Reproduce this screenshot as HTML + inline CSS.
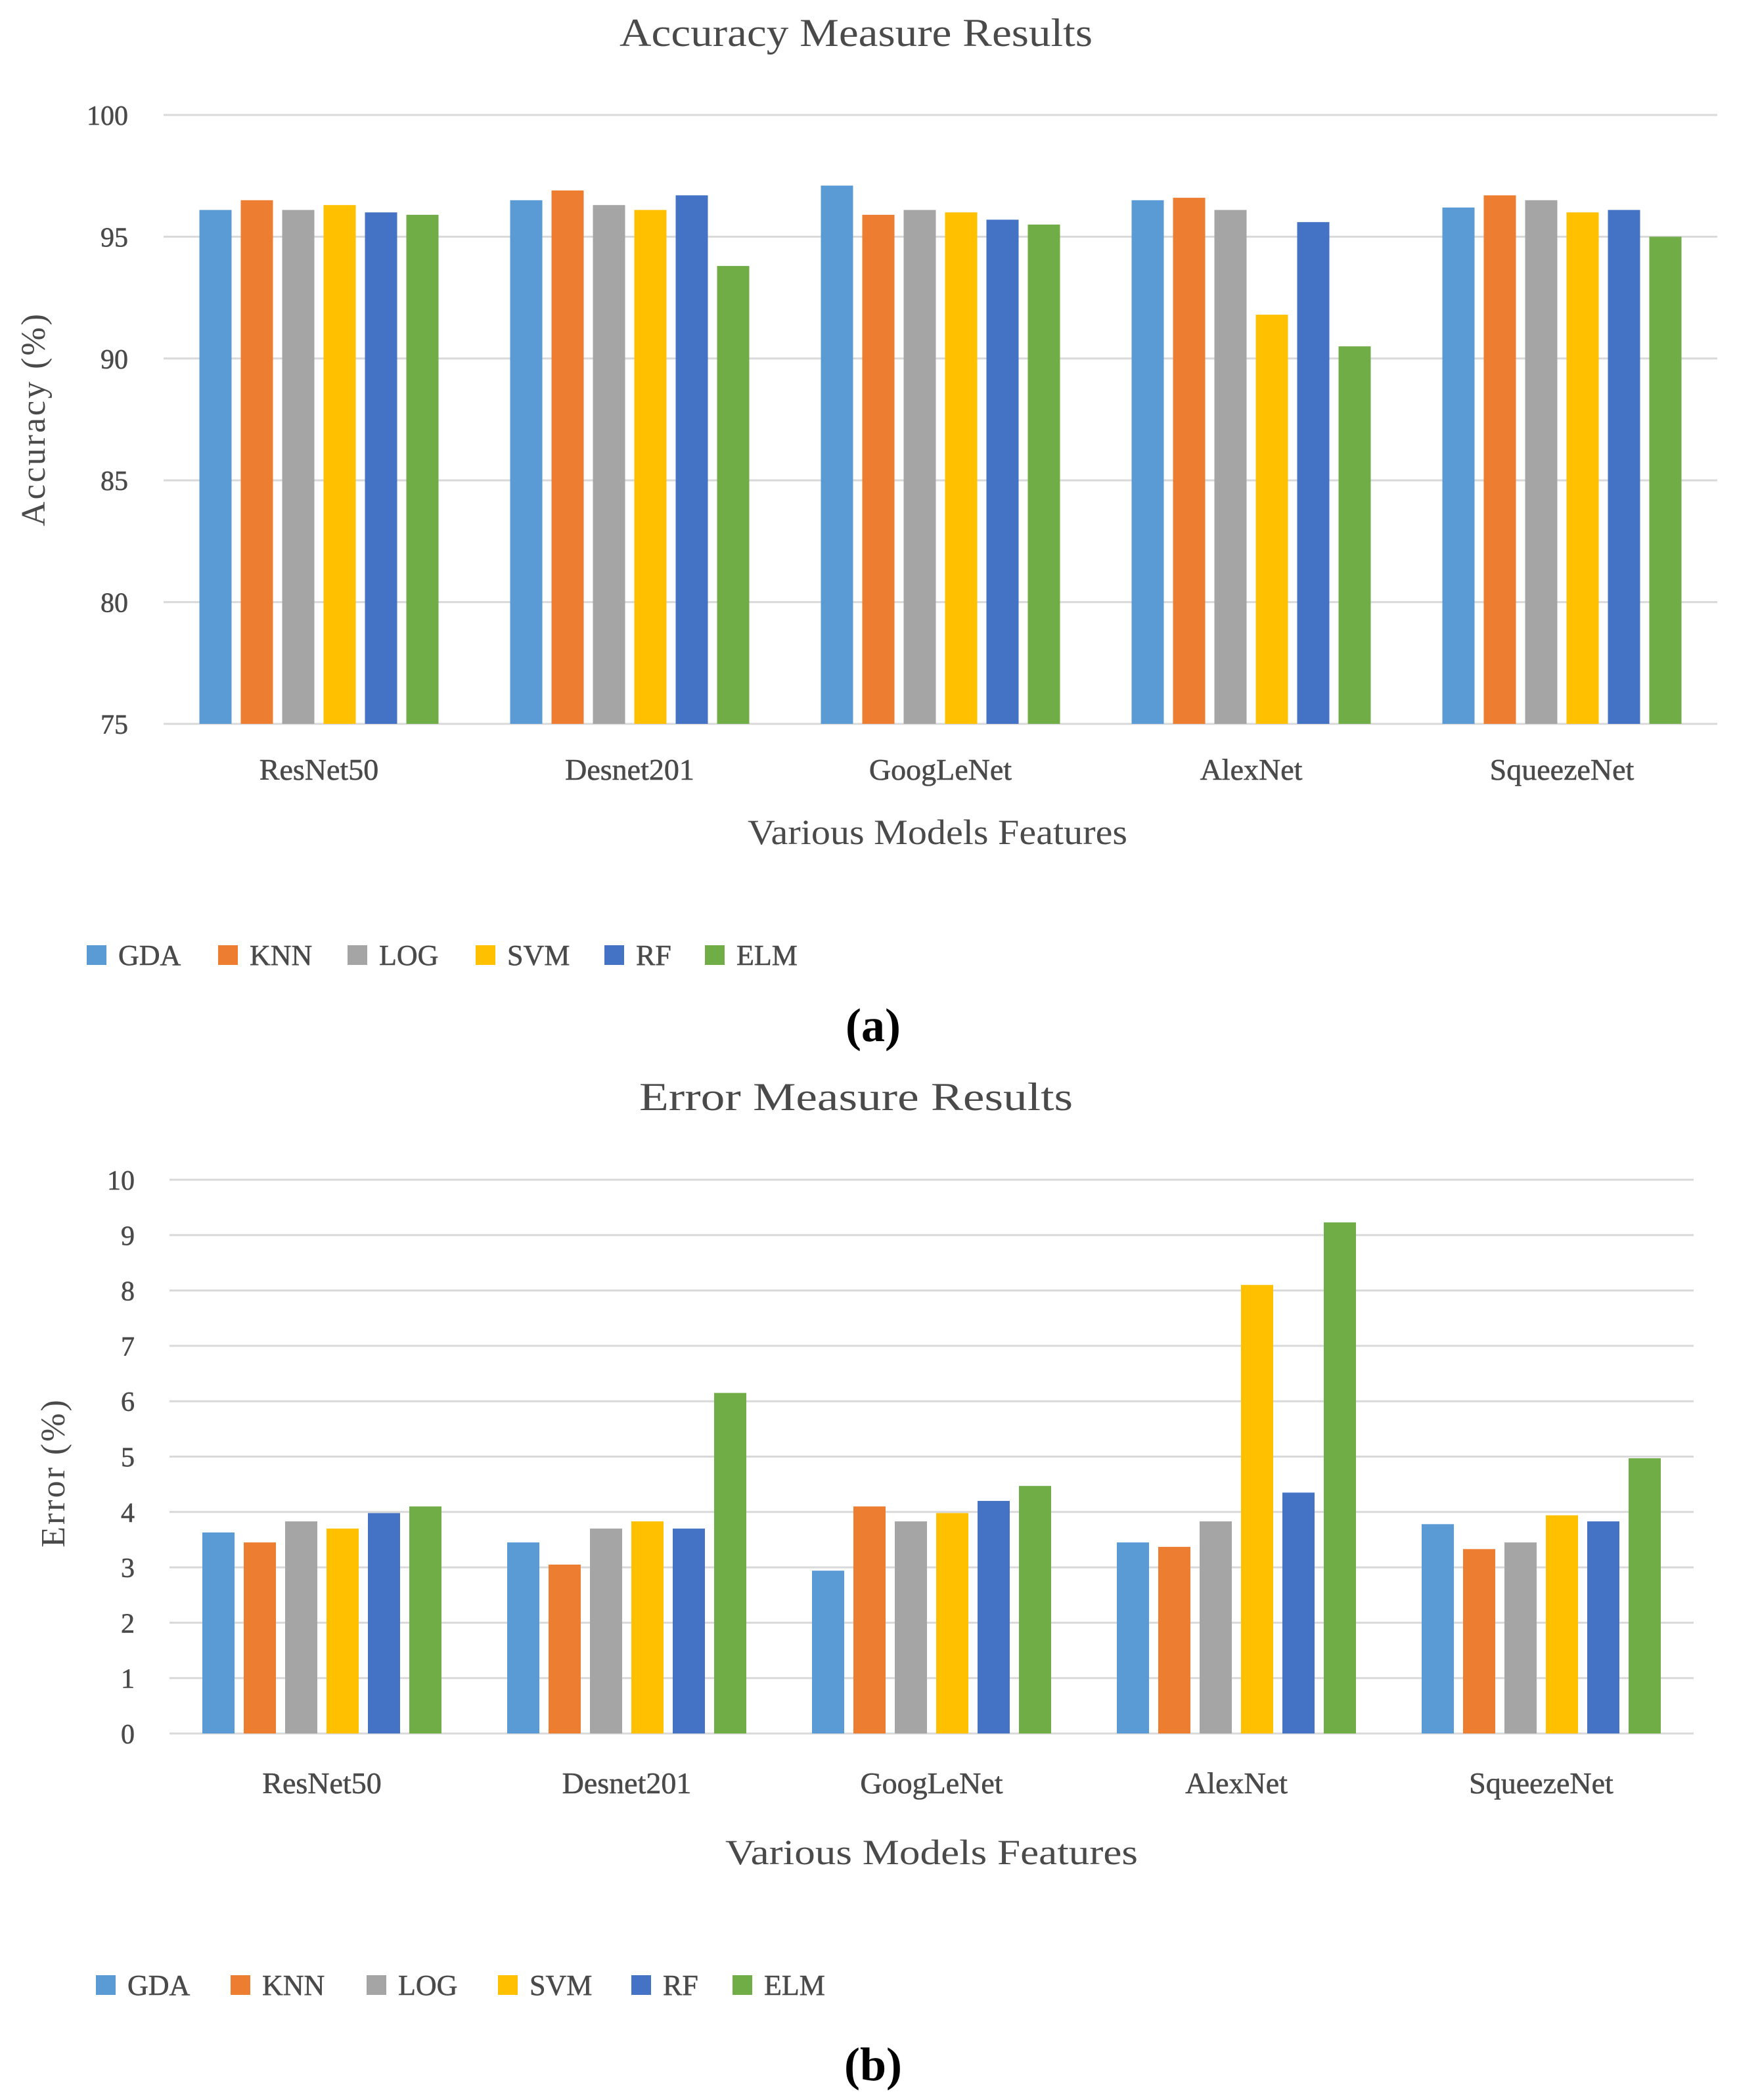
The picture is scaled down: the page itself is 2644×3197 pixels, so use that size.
<!DOCTYPE html>
<html><head><meta charset="utf-8"><style>
html,body{margin:0;padding:0;background:#fff;}
svg{display:block;}
text{font-family:"Liberation Serif",serif;fill:#4a4a4a;}
</style></head><body>
<svg id="fig" width="2644" height="3197" viewBox="0 0 2644 3197" xmlns="http://www.w3.org/2000/svg"></svg>
<script>
const categories = ["ResNet50","Desnet201","GoogLeNet","AlexNet","SqueezeNet"];
const seriesNames = ["GDA","KNN","LOG","SVM","RF","ELM"];
const accGDA = [96.1,96.5,97.1,96.5,96.2];
const accKNN = [96.5,96.9,95.9,96.6,96.7];
const accLOG = [96.1,96.3,96.1,96.1,96.5];
const accSVM = [96.3,96.1,96.0,91.8,96.0];
const accRF  = [96.0,96.7,95.7,95.6,96.1];
const accELM = [95.9,93.8,95.5,90.5,95.0];
const accTicks = [75,80,85,90,95,100];
const errGDA = [3.63,3.45,2.94,3.45,3.78];
const errKNN = [3.45,3.05,4.10,3.37,3.33];
const errLOG = [3.83,3.70,3.83,3.83,3.45];
const errSVM = [3.70,3.83,3.98,8.10,3.94];
const errRF  = [3.98,3.70,4.20,4.35,3.83];
const errELM = [4.10,6.15,4.47,9.23,4.97];
const errTicks = [0,1,2,3,4,5,6,7,8,9,10];
const colors = ["#5B9BD5","#ED7D31","#A5A5A5","#FFC000","#4472C4","#70AD47"];
const NS="http://www.w3.org/2000/svg";
const svg=document.getElementById('fig');
function mk(tag,attrs,parent,txt){const e=document.createElementNS(NS,tag);for(const k in attrs)e.setAttribute(k,attrs[k]);if(txt!==undefined)e.textContent=txt;(parent||svg).appendChild(e);return e;}

function chart(o){
  const g=mk('g',{});
  
  
  const y=v=>o.yBot-(v-o.min)/(o.max-o.min)*(o.yBot-o.yTop);
  const step=(o.xRight-o.xLeft)/categories.length;
  const cx=i=>o.xLeft+step*(i+0.5);
  const t=mk('text',{x:o.titleX,y:o.titleY,'font-size':60,'text-anchor':'middle',textLength:o.titleW,lengthAdjust:'spacingAndGlyphs'},g,o.title);
  
  
  o.ticks.forEach(v=>{
    const ln=mk('line',{x1:o.xLeft,x2:o.xRight,y1:y(v),y2:y(v),stroke:'#d9d9d9','stroke-width':3},g);
    
    
    const tl=mk('text',{x:o.tickX,y:y(v)+15,'font-size':42,'text-anchor':'end',stroke:'#4a4a4a','stroke-width':0.6},g,String(v));
    
    
  });
  const stride=63,bw=49;
  o.series.forEach((arr,s)=>{
    arr.forEach((v,i)=>{
      const x=cx(i)+(s-2.5)*stride-bw/2;
      const r=mk('rect',{x:x,y:y(v),width:bw,height:o.yBot-y(v),fill:colors[s]},g);
      
      
    });
  });
  categories.forEach((c,i)=>{
    const ct=mk('text',{x:cx(i),y:o.catY,'font-size':46,'text-anchor':'middle',stroke:'#4a4a4a','stroke-width':0.6},g,c);
    
    
  });
  const xt=mk('text',{x:o.xTitleX,y:o.xTitleY,'font-size':54,'text-anchor':'middle',textLength:o.xTitleW,lengthAdjust:'spacingAndGlyphs'},g,'Various Models Features');
  
  
  const yt=mk('text',{x:0,y:0,'font-size':52,'text-anchor':'middle','letter-spacing':3,transform:`translate(${o.yTitleX},${o.yTitleY}) rotate(-90)`},g,o.yTitle);
  
  
  seriesNames.forEach((n,s)=>{
    const lg=mk('g',{},g);
    
    
    mk('rect',{x:o.legX[s],y:o.legY-18,width:30,height:30,fill:colors[s]},lg);
    mk('text',{x:o.legX[s]+48,y:o.legY+12,'font-size':44,stroke:'#4a4a4a','stroke-width':0.6},lg,n);
  });
  const cap=mk('text',{x:1329,y:o.capY,'font-size':72,'font-weight':'bold','text-anchor':'middle',style:'fill:#000'},g,o.cap);
  
  
}
chart({id:'accuracy',title:'Accuracy Measure Results',titleX:1303,titleY:70,titleW:720,
  min:75,max:100,ticks:accTicks,yTop:175,yBot:1102,xLeft:249,xRight:2614,tickX:195,
  series:[accGDA,accKNN,accLOG,accSVM,accRF,accELM],catY:1187,xTitleX:1427,xTitleY:1285,xTitleW:578,
  yTitle:'Accuracy (%)',yTitleX:68,yTitleY:638,legX:[132,332,529,724,920,1073],legY:1457,cap:'(a)',capY:1585});
chart({id:'error',title:'Error Measure Results',titleX:1303,titleY:1690,titleW:660,
  min:0,max:10,ticks:errTicks,yTop:1796,yBot:2639,xLeft:258,xRight:2578,tickX:205,
  series:[errGDA,errKNN,errLOG,errSVM,errRF,errELM],catY:2730,xTitleX:1418,xTitleY:2838,xTitleW:628,
  yTitle:'Error (%)',yTitleX:98,yTitleY:2242,legX:[146,351,558,758,961,1115],legY:3025,cap:'(b)',capY:3167});
</script>
</body></html>
